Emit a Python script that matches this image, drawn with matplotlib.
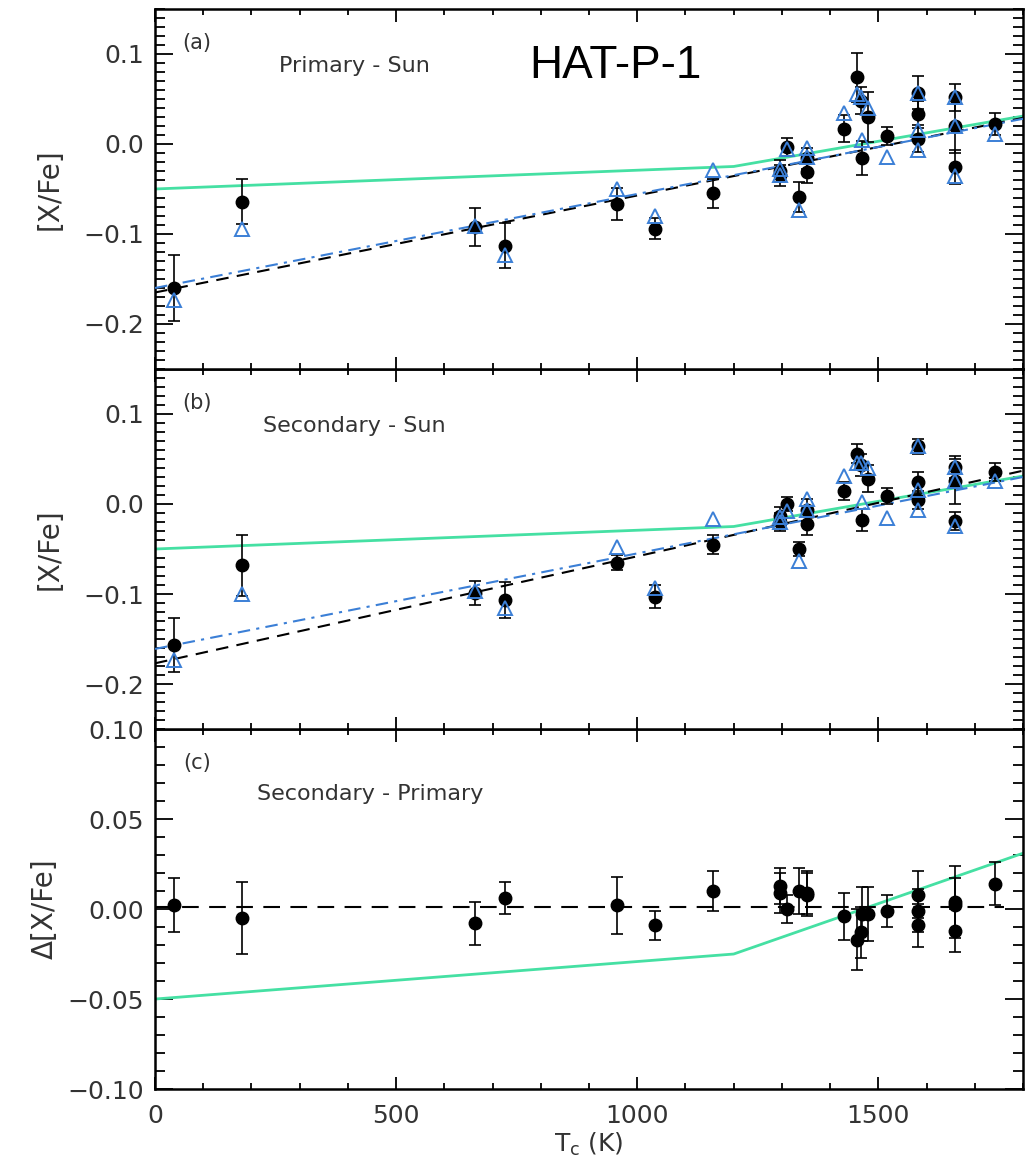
import numpy as np
import matplotlib
matplotlib.use('Agg')
import matplotlib.pyplot as plt
from matplotlib.ticker import MultipleLocator, FuncFormatter

plt.rcParams['font.family'] = ['DejaVu Sans']
plt.rcParams['mathtext.default'] = 'regular'

# condensation temperatures (K)
tc = [40, 180, 664, 726, 958, 1037, 1158, 1296, 1296, 1310, 1336, 1352, 1353,
      1429, 1455, 1464, 1466, 1478, 1517, 1582, 1582, 1582, 1659, 1659, 1659, 1741]

# (a) primary - sun
prim_sun = [-0.160, -0.064, -0.092, -0.113, -0.067, -0.094, -0.055, -0.030, -0.035,
            -0.003, -0.059, -0.016, -0.031, 0.017, 0.074, 0.048, -0.016, 0.030,
            0.009, 0.057, 0.033, 0.006, 0.052, 0.020, -0.026, 0.022]
prim_err = [0.037, 0.025, 0.021, 0.025, 0.018, 0.012, 0.016, 0.012, 0.012, 0.010,
            0.017, 0.012, 0.012, 0.015, 0.027, 0.015, 0.019, 0.028, 0.010, 0.018,
            0.015, 0.015, 0.015, 0.030, 0.019, 0.012]
prim_corr = [-0.173, -0.095, -0.091, -0.123, -0.050, -0.080, -0.029, -0.028, -0.034,
             -0.006, -0.073, -0.015, -0.004, 0.034, 0.056, 0.052, 0.004, 0.040,
             -0.015, 0.057, 0.015, -0.007, 0.052, 0.020, -0.036, 0.011]

# (b) secondary - sun
sec_sun = [-0.157, -0.068, -0.099, -0.107, -0.065, -0.103, -0.045, -0.020, -0.013,
           0.000, -0.050, -0.007, -0.022, 0.014, 0.056, 0.043, -0.018, 0.028,
           0.009, 0.064, 0.024, 0.004, 0.041, 0.025, -0.019, 0.035]
sec_err = [0.030, 0.034, 0.013, 0.020, 0.008, 0.013, 0.010, 0.010, 0.010, 0.008,
           0.008, 0.012, 0.012, 0.010, 0.011, 0.012, 0.012, 0.015, 0.009, 0.008,
           0.012, 0.010, 0.012, 0.025, 0.010, 0.010]
sec_corr = [-0.173, -0.100, -0.097, -0.116, -0.048, -0.093, -0.017, -0.020, -0.015,
            -0.008, -0.063, -0.007, 0.006, 0.031, 0.045, 0.045, 0.002, 0.040,
            -0.016, 0.064, 0.015, -0.007, 0.041, 0.025, -0.025, 0.026]

# (c) secondary - primary
diff = [0.002, -0.005, -0.008, 0.006, 0.002, -0.009, 0.010, 0.013, 0.009, 0.000,
        0.010, 0.008, 0.009, -0.004, -0.017, -0.013, -0.003, -0.003, -0.001, 0.008,
        -0.009, -0.001, 0.004, 0.002, -0.012, 0.014]
diff_err = [0.015, 0.020, 0.012, 0.009, 0.016, 0.008, 0.011, 0.010, 0.011, 0.008,
            0.013, 0.012, 0.012, 0.013, 0.017, 0.014, 0.015, 0.015, 0.009, 0.013,
            0.012, 0.012, 0.020, 0.015, 0.012, 0.012]

# solar twin trend (green)
trend_tc = [0, 1200, 1800]
trend_val = [-0.05, -0.025, 0.031]

# linear fits: values at the two ends of the line
fit_tc = [0, 1800]
prim_fit = [-0.165, 0.029]
prim_corr_fit = [-0.160, 0.028]
sec_fit = [-0.177, 0.037]
sec_corr_fit = [-0.161, 0.030]
diff_fit_tc = [0, 1760]
diff_fit = [0.001, 0.001]

GREEN = '#45e0a3'
BLUE = '#3b7fd6'
TXT = '#333333'
DASH = (0, (6, 4))
DASHDOT = (0, (6, 3, 1.5, 3))

fig = plt.figure(figsize=(10.35, 11.64), dpi=100)
left, width, h = 0.1498, 0.8386, 0.3093
ax_c = fig.add_axes([left, 0.0644, width, h])
ax_b = fig.add_axes([left, 0.0644 + h, width, h], sharex=ax_c)
ax_a = fig.add_axes([left, 0.0644 + 2 * h, width, h], sharex=ax_c)


def miinus(fmt):
    # oikea miinusmerkki tikkien teksteihin
    return FuncFormatter(lambda v, pos: (fmt % v).replace('-', '\u2212'))


def tyyli(ax, major, minor, fmt):
    ax.set_xlim(0, 1800)
    ax.xaxis.set_major_locator(MultipleLocator(500))
    ax.xaxis.set_minor_locator(MultipleLocator(100))
    ax.yaxis.set_major_locator(MultipleLocator(major))
    ax.yaxis.set_minor_locator(MultipleLocator(minor))
    ax.yaxis.set_major_formatter(miinus(fmt))
    ax.tick_params(which='both', direction='in', top=True, right=True,
                   labelsize=18, labelcolor=TXT, width=1.3)
    ax.tick_params(axis='y', which='major', length=13, pad=8)
    ax.tick_params(axis='y', which='minor', length=7)
    ax.tick_params(axis='x', which='major', length=9, pad=11)
    ax.tick_params(axis='x', which='minor', length=4.5)
    for s in ax.spines.values():
        s.set_linewidth(1.8)


def paneeli(ax, y, err, corr, fit, corr_fit, label, otsikko):
    ax.plot(trend_tc, trend_val, color=GREEN, lw=2, zorder=2)
    ax.plot(fit_tc, fit, color='k', ls=DASH, lw=1.5, zorder=3)
    ax.plot(fit_tc, corr_fit, color=BLUE, ls=DASHDOT, lw=1.5, zorder=3)
    ax.errorbar(tc, y, yerr=err, fmt='o', color='k', ms=9, elinewidth=1.2,
                capsize=4, capthick=1.2, zorder=4)
    ax.plot(tc, corr, '^', mfc='none', mec=BLUE, ms=10, mew=1.4, zorder=5)
    ax.set_ylim(-0.25, 0.15)
    tyyli(ax, 0.1, 0.01, '%.1f')
    ax.set_ylabel('[X/Fe]', fontsize=20, color=TXT, labelpad=14)
    ax.text(0.048, 0.906, label, transform=ax.transAxes, fontsize=15,
            color=TXT, ha='center', va='center')
    ax.text(0.23, 0.842, otsikko, transform=ax.transAxes, fontsize=16,
            color=TXT, ha='center', va='center')


paneeli(ax_a, prim_sun, prim_err, prim_corr, prim_fit, prim_corr_fit,
        '(a)', 'Primary - Sun')
ax_a.text(0.53, 0.842, 'HAT-P-1', transform=ax_a.transAxes, fontsize=33,
          family='Liberation Sans', color='k', ha='center', va='center')
paneeli(ax_b, sec_sun, sec_err, sec_corr, sec_fit, sec_corr_fit,
        '(b)', 'Secondary - Sun')

# (c) erotuspaneeli
ax_c.plot(trend_tc, trend_val, color=GREEN, lw=2, zorder=2)
ax_c.plot(diff_fit_tc, diff_fit, color='k', ls=(0, (8, 5)), lw=1.5, zorder=3)
ax_c.errorbar(tc, diff, yerr=diff_err, fmt='o', color='k', ms=9, elinewidth=1.2,
              capsize=4, capthick=1.2, zorder=4)
ax_c.set_ylim(-0.1, 0.1)
tyyli(ax_c, 0.05, 0.01, '%.2f')
ax_c.set_ylabel('\u0394[X/Fe]', fontsize=20, color=TXT, labelpad=6)
ax_c.set_xlabel(r'T$_{c}$ (K)', fontsize=18, color=TXT, labelpad=2)
ax_c.text(0.048, 0.906, '(c)', transform=ax_c.transAxes, fontsize=15,
          color=TXT, ha='center', va='center')
ax_c.text(0.248, 0.819, 'Secondary - Primary', transform=ax_c.transAxes,
          fontsize=16, color=TXT, ha='center', va='center')

plt.setp(ax_a.get_xticklabels(), visible=False)
plt.setp(ax_b.get_xticklabels(), visible=False)

fig.savefig('out.png', dpi=100)
